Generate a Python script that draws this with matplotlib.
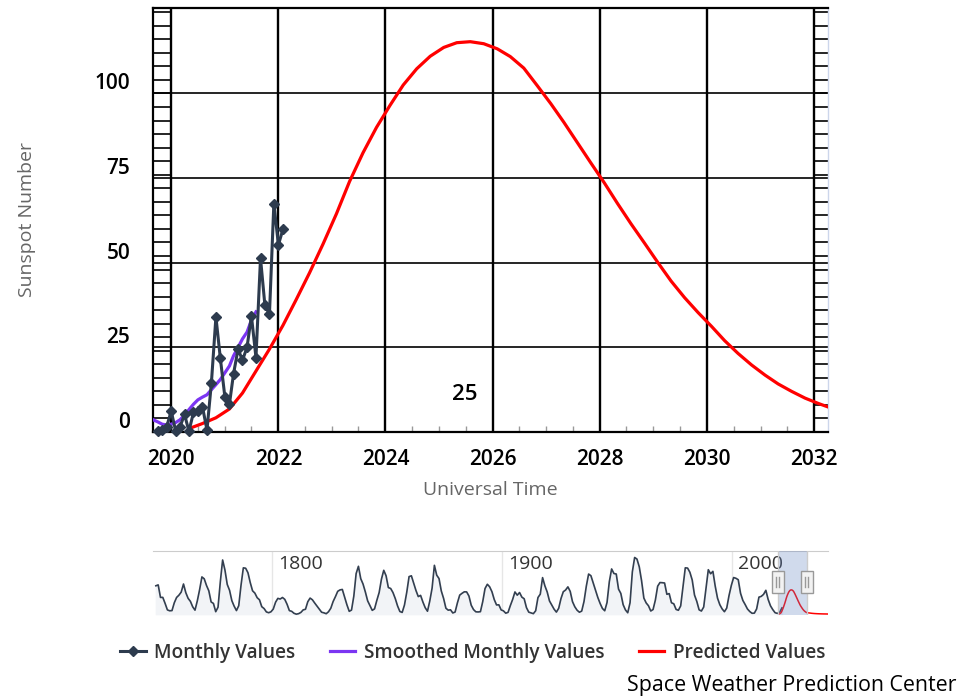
import numpy as np
import pandas as pd
import matplotlib
matplotlib.use("Agg")
import matplotlib.pyplot as plt
import matplotlib.dates as mdates
from matplotlib.lines import Line2D
from matplotlib.patches import Rectangle
from matplotlib.transforms import ScaledTranslation

plt.rcParams['font.family'] = ['Open Sans', 'DejaVu Sans']

# observed monthly sunspot numbers, Oct 2019 .. Feb 2022
monthly_start = '2019-10-01'
monthly_values = [0.4, 0.5, 1.5,
                  6.2, 0.2, 1.5, 5.2, 0.2, 5.8, 6.1, 7.5, 0.6, 14.4, 34.0, 21.8,
                  10.4, 8.2, 17.2, 24.5, 21.2, 25.0, 34.3, 22.0, 51.3, 37.4, 34.8, 67.5,
                  55.3, 59.9]

# smoothed monthly values, Sep 2019 .. Aug 2021
smoothed_start = '2019-09-01'
smoothed_values = [3.6, 3.0, 2.3, 2.1,
                   2.3, 2.8, 3.6, 5.0, 6.6, 8.2, 9.5, 10.3, 11.0, 12.5, 14.0, 15.5,
                   17.5, 19.5, 22.5, 25.0, 27.5, 29.5, 33.0, 35.5]

# predicted values (quarterly), May 2020 .. May 2032
predicted_start = '2020-05-01'
predicted_values = [1.0, 2.5, 4.2, 6.8, 11.5, 18.0, 24.5, 31.5, 39.0, 47.0, 55.5, 64.5,
                    74.0, 82.5, 90.0, 96.5, 102.5, 107.3, 111.0, 113.6, 115.0, 115.3,
                    114.7, 113.2, 110.9, 107.5, 102.3, 97.0, 91.5, 85.5, 79.5, 73.6,
                    67.5, 61.5, 55.8, 50.0, 44.6, 39.7, 35.3, 31.2, 27.0, 23.2, 19.8,
                    16.8, 14.2, 12.0, 10.0, 8.4, 7.0]
# tail of the prediction only seen in the navigator
predicted_tail_years = [2033, 2034, 2035, 2036, 2037, 2038, 2039, 2040, 2041, 2042]
predicted_tail_values = [5.5, 4.0, 3.0, 2.3, 1.8, 1.4, 1.1, 0.9, 0.7, 0.5]

# yearly mean sunspot numbers 1749 .. 2021 (navigator overview)
yearly_start = 1749
yearly_values = [
    134.7, 139.0, 79.5, 79.7, 51.2, 20.3, 16.0, 17.0, 54.0, 79.3, 90.0, 104.8, 143.2, 102.0,
    75.2, 60.7, 34.8, 19.0, 63.0, 116.3, 176.8, 168.0, 136.0, 110.8, 58.0, 51.0, 11.7, 33.0,
    154.2, 257.3, 209.8, 141.3, 113.5, 64.2, 38.0, 17.0, 40.2, 138.2, 220.0, 218.2, 196.8,
    149.8, 111.0, 100.0, 78.2, 68.3, 35.5, 26.7, 10.7, 6.8, 11.3, 24.2, 56.7, 75.0, 71.8,
    79.2, 70.3, 46.8, 16.8, 13.5, 4.2, 0.0, 2.3, 8.3, 20.3, 23.2, 59.0, 76.3, 68.3, 52.9,
    38.5, 24.2, 9.2, 6.3, 2.2, 11.4, 28.2, 59.9, 83.0, 108.5, 115.2, 117.4, 80.8, 44.3,
    13.4, 19.5, 85.8, 192.7, 227.3, 168.7, 143.0, 105.5, 63.3, 40.3, 18.1, 25.1, 65.8,
    102.7, 166.3, 208.3, 182.5, 126.3, 122.0, 102.7, 74.1, 39.0, 12.7, 8.2, 43.4, 104.4,
    178.3, 182.2, 146.6, 112.1, 83.5, 89.2, 57.8, 30.7, 13.9, 62.8, 123.6, 232.0, 185.3,
    169.2, 110.1, 74.5, 28.3, 18.9, 20.7, 5.7, 10.0, 53.7, 90.5, 99.0, 106.1, 105.8, 86.3,
    42.4, 21.8, 11.2, 10.4, 11.8, 59.5, 121.7, 142.0, 130.0, 106.6, 69.4, 43.8, 44.4, 20.2,
    15.7, 4.6, 8.5, 40.8, 70.1, 105.5, 90.1, 102.8, 80.9, 73.2, 30.9, 9.5, 6.0, 2.4, 16.1,
    79.0, 95.0, 173.6, 134.6, 105.7, 62.7, 43.5, 23.7, 9.7, 27.9, 74.0, 106.5, 114.7, 129.7,
    108.2, 59.4, 35.1, 18.6, 9.2, 14.6, 60.2, 132.8, 190.6, 182.6, 148.0, 113.0, 79.2, 50.8,
    27.1, 16.1, 55.3, 154.3, 214.7, 193.0, 190.7, 118.9, 98.3, 45.0, 20.1, 6.6, 54.2, 200.7,
    269.3, 261.7, 225.1, 159.0, 76.4, 53.4, 39.9, 15.0, 22.0, 66.8, 132.9, 150.2, 149.4,
    148.0, 94.4, 97.6, 54.1, 49.2, 22.5, 18.4, 39.3, 131.0, 220.1, 218.9, 198.9, 162.4,
    91.0, 60.5, 20.6, 14.8, 33.9, 123.0, 211.1, 191.8, 203.3, 133.0, 76.1, 44.9, 25.1,
    11.6, 28.9, 88.3, 136.3, 173.9, 170.4, 163.6, 99.3, 65.3, 45.8, 24.7, 12.6, 4.2, 4.8,
    24.9, 80.8, 84.5, 94.0, 113.3, 69.8, 39.8, 21.7, 7.0, 3.6, 8.8, 29.6]

y_ticks = [0, 25, 50, 75, 100]
nav_year_labels = [1800, 1900, 2000]
cycle_label = '25'
x_min, x_max = pd.Timestamp('2019-08-30'), pd.Timestamp('2032-04-05')

monthly_dates = pd.date_range(monthly_start, periods=len(monthly_values), freq='MS')
smoothed_dates = pd.date_range(smoothed_start, periods=len(smoothed_values), freq='MS')
predicted_dates = pd.date_range(predicted_start, periods=len(predicted_values), freq='3MS')
tail_dates = pd.to_datetime([f'{y}-07-01' for y in predicted_tail_years])
yearly_dates = pd.to_datetime([f'{yearly_start + i}-07-01' for i in range(len(yearly_values))])

dark = '#2d3b4e'
purple = '#7b35f2'
red = '#ff0000'

fig = plt.figure(figsize=(9.62, 6.97), dpi=100)
W, H = 962, 697
ax = fig.add_axes([153 / W, 1 - 432 / H, 675 / W, 424.5 / H])

ax.plot(predicted_dates, predicted_values, color=red, lw=2.3, zorder=3)
ax.plot(smoothed_dates, smoothed_values, color=purple, lw=2.3, zorder=4)
ax.plot(monthly_dates, monthly_values, color=dark, lw=2.2, marker='D', ms=5.5,
        zorder=5, clip_on=False)

ax.set_xlim(x_min, x_max)
ax.set_ylim(0, 125.4)

# grid
ax.set_yticks(y_ticks)
ax.set_yticklabels([str(v) for v in y_ticks])
ax.xaxis.set_major_locator(mdates.YearLocator(2))
ax.xaxis.set_major_formatter(mdates.DateFormatter('%Y'))
ax.xaxis.set_minor_locator(mdates.MonthLocator(bymonth=[1, 7]))
ax.grid(axis='y', color='black', lw=1.2, zorder=1)
ax.grid(axis='x', which='major', color='black', lw=1.7, zorder=1)
ax.tick_params(axis='both', which='major', length=0)
ax.tick_params(axis='y', pad=16.5)
ax.tick_params(axis='x', pad=12)
ax.tick_params(axis='x', which='minor', direction='in', length=4.5, color='#999999', width=1)
for lab in ax.get_yticklabels() + ax.get_xticklabels():
    lab.set_fontsize(15)
    lab.set_fontweight('semibold')
for lab in ax.get_yticklabels():
    lab.set_transform(lab.get_transform() + ScaledTranslation(0, 12 / 100, fig.dpi_scale_trans))

# minor "ladder" lines outside the first/last year gridline
ladder = np.arange(0, 126, 4)
ax.hlines(ladder, x_min, pd.Timestamp('2020-01-01'), color='black', lw=1.2, zorder=1)
ax.hlines(ladder, pd.Timestamp('2032-01-01'), x_max, color='black', lw=1.2, zorder=1)

for s in ['left', 'top', 'bottom']:
    ax.spines[s].set_color('black')
    ax.spines[s].set_linewidth(1.6)
ax.spines['right'].set_color('#ccd6eb')
ax.spines['right'].set_linewidth(1)

ax.set_xlabel('Universal Time', fontsize=14, color='#666666')
ax.set_ylabel('Sunspot Number', fontsize=14, color='#666666')
ax.xaxis.set_label_coords((490 - 153) / 675, (432 - 490) / 424.5)
ax.xaxis.label.set_va('center')
ax.yaxis.set_label_coords((27 - 153) / 675, (432 - 219.5) / 424.5)
ax.yaxis.label.set_va('center')

ax.text(pd.Timestamp('2025-06-27'), 11.2, cycle_label, ha='center', va='center',
        fontsize=16, fontweight='semibold', color='black')

# navigator
nav = fig.add_axes([153 / W, 1 - 615 / H, 675 / W, 64 / H])
nav.fill_between(yearly_dates, yearly_values, color='#f2f4f7', zorder=1)
nav.plot(yearly_dates, yearly_values, color='#333f50', lw=1.2, zorder=2)
nav.plot(list(predicted_dates) + list(tail_dates), predicted_values + predicted_tail_values,
         color=red, lw=1.1, zorder=2)
nav.set_xlim(pd.Timestamp('1748-04-01'), pd.Timestamp('2041-07-01'))
nav.set_ylim(-4, 300)
nav.set_xticks([])
nav.set_yticks([])
for s in ['left', 'right', 'bottom']:
    nav.spines[s].set_visible(False)
nav.spines['top'].set_color('#cccccc')
for yr in nav_year_labels:
    d = pd.Timestamp(f'{yr}-01-01')
    nav.axvline(d, color='#e6e6e6', lw=1, zorder=0)
    nav.text(d, 0.79, str(yr), transform=nav.get_xaxis_transform() +
             ScaledTranslation(6 / 100, 0, fig.dpi_scale_trans),
             ha='left', va='center', fontsize=14, color='#333333')
nav.axvspan(x_min, x_max, color=(102 / 255, 133 / 255, 194 / 255), alpha=0.3, lw=0, zorder=3)
for d in [x_min, x_max]:
    nav.axvline(d, color='#cccccc', lw=1, zorder=3)

# navigator handles (drawn in pixel space)
fig.canvas.draw()
ybot = nav.transAxes.transform((0, 0))[1]
for d in [x_min, x_max]:
    px = nav.transData.transform((mdates.date2num(d), 0))[0]
    hy = ybot + (615 - 593)
    fig.add_artist(Rectangle((px - 6, hy), 12, 22, transform=None, facecolor='#f2f2f2',
                             edgecolor='#999999', lw=1, zorder=10))
    for dx in (-1.5, 1.5):
        fig.add_artist(Line2D([px + dx, px + dx], [hy + 6, hy + 16], transform=None,
                              color='#999999', lw=1, zorder=11))

handles = [Line2D([], [], color=dark, lw=2.2, marker='D', ms=5.5),
           Line2D([], [], color=purple, lw=2.3),
           Line2D([], [], color=red, lw=2.3)]
fig.legend(handles, ['Monthly Values', 'Smoothed Monthly Values', 'Predicted Values'],
           loc='center left', bbox_to_anchor=(120 / W, 1 - 653 / H), ncol=3, frameon=False,
           handlelength=1.35, handletextpad=0.45, columnspacing=1.8,
           borderpad=0, borderaxespad=0, labelcolor='#333333',
           prop={'size': 13.7, 'weight': 'semibold'})

fig.text(957 / W, 1 - 686 / H, 'Space Weather Prediction Center', ha='right', va='center',
         fontsize=15.4, color='black')

fig.savefig('out.png', dpi=100)
